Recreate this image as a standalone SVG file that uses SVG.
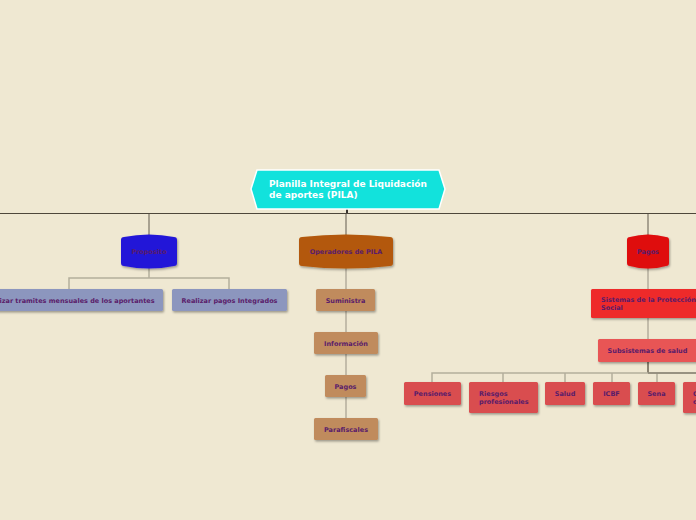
<svg xmlns="http://www.w3.org/2000/svg" width="696" height="520" viewBox="0 0 696 520">
<defs>
<filter id="sh" x="-10%" y="-20%" width="130%" height="150%">
<feDropShadow dx="1" dy="1.5" stdDeviation="0.8" flood-color="#000" flood-opacity="0.35"/>
</filter>
<style>
.t{font-family:"DejaVu Sans",Verdana,sans-serif;font-weight:bold;font-size:6.5px;fill:#5a1c6a}
.tc{text-anchor:middle}
.c{fill:none;stroke:#b4ae9c;stroke-width:1.5}
.cd{fill:none;stroke:#908a7a;stroke-width:1.5}
.main{fill:none;stroke:#4e473b;stroke-width:1}
.bl{fill:#8c96be}
.tan{fill:#c08b5d}
.red{fill:#d94e4f}
</style>
</defs>
<rect width="696" height="520" fill="#efe8d2"/>
<g id="connectors">
<line class="main" x1="0" y1="213.5" x2="696" y2="213.5"/>
<line x1="347" y1="209" x2="347" y2="213" stroke="#3a3530" stroke-width="2"/>
<line class="cd" x1="149" y1="214" x2="149" y2="235"/>
<line class="cd" x1="346" y1="214" x2="346" y2="235"/>
<line class="cd" x1="648" y1="214" x2="648" y2="235"/>
<path class="c" d="M149,268 V278 M69,289 V278 H229 V289"/>
<path class="c" d="M346,268 V418"/>
<path class="c" d="M648,268 V339"/>
<path d="M648,362 V373" stroke="#6a6252" stroke-width="1.5" fill="none"/>
<path class="c" d="M432,382 V373 H696 M503,382 V373 M565,382 V373 M612,382 V373 M657,382 V373"/>
<path d="M648,373 H696" stroke="#8a8474" stroke-width="1.5" fill="none"/>
</g>
<g id="root">
<polygon points="251,189 257,170 439,170 445,189 439,209 257,209" fill="#12e2dc" stroke="#ffffff" stroke-width="1.5"/>
<text x="269" y="187" font-family="DejaVu Sans,Verdana,sans-serif" font-weight="bold" font-size="9" fill="#ffffff">Planilla Integral de Liquidación</text>
<text x="269" y="198" font-family="DejaVu Sans,Verdana,sans-serif" font-weight="bold" font-size="9" fill="#ffffff">de aportes (PILA)</text>
</g>
<g id="proposito">
<path d="M121,240 Q121,237 124,237 Q149,232 174,237 Q177,237 177,240 V263 Q177,266 174,266 Q149,271 124,266 Q121,266 121,263 Z" fill="#2418d8" filter="url(#sh)"/>
<text class="t tc" x="149" y="254">Proposito</text>
</g>
<g id="tramites">
<rect class="bl" x="-26" y="289" width="189" height="22" rx="1.5" filter="url(#sh)"/>
<text class="t tc" x="69" y="302.5">Realizar tramites mensuales de los aportantes</text>
</g>
<g id="pagos-integrados">
<rect class="bl" x="172" y="289" width="115" height="22" rx="1.5" filter="url(#sh)"/>
<text class="t tc" x="229.5" y="302.5">Realizar pagos Integrados</text>
</g>
<g id="operadores">
<path d="M299,240 Q299,237 302,237 Q346,232 390,237 Q393,237 393,240 V263 Q393,266 390,266 Q346,271 302,266 Q299,266 299,263 Z" fill="#b3580a" filter="url(#sh)"/>
<text class="t tc" x="346" y="254">Operadores de PILA</text>
</g>
<g id="suministra">
<rect class="tan" x="316" y="289" width="59" height="22" rx="1.5" filter="url(#sh)"/>
<text class="t tc" x="345.5" y="302.5">Suministra</text>
</g>
<g id="informacion">
<rect class="tan" x="314" y="332" width="64" height="22" rx="1.5" filter="url(#sh)"/>
<text class="t tc" x="346" y="345.5">Información</text>
</g>
<g id="pagos-op">
<rect class="tan" x="325" y="375" width="41" height="22" rx="1.5" filter="url(#sh)"/>
<text class="t tc" x="345.5" y="388.5">Pagos</text>
</g>
<g id="parafiscales">
<rect class="tan" x="314" y="418" width="64" height="22" rx="1.5" filter="url(#sh)"/>
<text class="t tc" x="346" y="431.5">Parafiscales</text>
</g>
<g id="pagos">
<path d="M627,240 Q627,237 630,237 Q648,232 666,237 Q669,237 669,240 V263 Q669,266 666,266 Q648,271 630,266 Q627,266 627,263 Z" fill="#df0a0e" filter="url(#sh)"/>
<text class="t tc" x="648" y="254">Pagos</text>
</g>
<g id="sistemas">
<rect x="591" y="289" width="110" height="29" rx="1.5" fill="#ee2a2a" filter="url(#sh)"/>
<text class="t" x="601" y="301.5">Sistemas de la Protección</text>
<text class="t" x="601" y="310">Social</text>
</g>
<g id="subsistemas">
<rect x="598" y="339" width="100" height="23" rx="1.5" fill="#e85454" filter="url(#sh)"/>
<text class="t tc" x="647.5" y="353">Subsistemas de salud</text>
</g>
<g id="pensiones">
<rect class="red" x="404" y="382" width="57" height="23" rx="1.5" filter="url(#sh)"/>
<text class="t tc" x="432.5" y="396">Pensiones</text>
</g>
<g id="riesgos">
<rect class="red" x="469" y="382" width="69" height="31" rx="1.5" filter="url(#sh)"/>
<text class="t" x="479" y="395.5">Riesgos</text>
<text class="t" x="479" y="404">profesionales</text>
</g>
<g id="salud">
<rect class="red" x="545" y="382" width="40" height="23" rx="1.5" filter="url(#sh)"/>
<text class="t tc" x="565" y="396">Salud</text>
</g>
<g id="icbf">
<rect class="red" x="593" y="382" width="37" height="23" rx="1.5" filter="url(#sh)"/>
<text class="t tc" x="611.5" y="396">ICBF</text>
</g>
<g id="sena">
<rect class="red" x="638" y="382" width="37" height="23" rx="1.5" filter="url(#sh)"/>
<text class="t tc" x="656.5" y="396">Sena</text>
</g>
<g id="cajas">
<rect class="red" x="683" y="382" width="60" height="31" rx="1.5" filter="url(#sh)"/>
<text class="t" x="693" y="395.5">Cajas de</text>
<text class="t" x="693" y="404">compensación</text>
</g>
</svg>
